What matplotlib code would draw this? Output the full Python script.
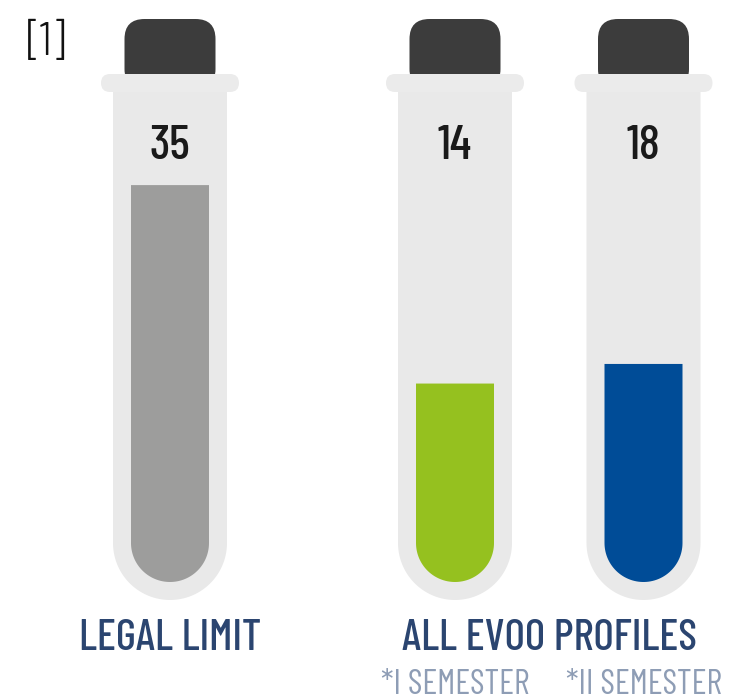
import numpy as np
import matplotlib
matplotlib.use("Agg")
import matplotlib.pyplot as plt
from matplotlib.patches import Polygon, FancyBboxPatch

# --- data ---
value_labels = ["35", "14", "18"]
fill_level = [0.81, 0.405, 0.445]      # share of the tube filled with liquid
liquid_colors = ["#9d9d9c", "#95c11f", "#004c97"]
group_labels = ["LEGAL LIMIT", "ALL EVOO PROFILES"]
sub_labels = ["*I SEMESTER", "*II SEMESTER"]
note = "[1]"

# --- layout, in pixels of the 736x694 canvas ---
W, H = 736, 694
centers = [170, 455, 643.5]
TUBE_R = 57          # half width of the glass
LIQ_R = 39           # half width of the liquid
TUBE_BOTTOM = 600
LIQ_BOTTOM = 582
RIM_Y0, RIM_Y1 = 74, 92
INNER_H = LIQ_BOTTOM - RIM_Y1

GLASS = "#e9e9e9"
CAP = "#3c3c3c"
NAVY = "#2b4570"
PALE = "#8e9db5"

plt.rcParams["font.family"] = ["Barlow Condensed", "DejaVu Sans"]

fig = plt.figure(figsize=(W / 100, H / 100), dpi=100)
ax = fig.add_axes([0, 0, 1, 1])
ax.set_xlim(0, W)
ax.set_ylim(H, 0)
ax.axis("off")


def u_shape(ax, cx, top, bottom, r, color, z):
    """One polygon: straight sides with a round bottom (y grows downward)."""
    t = np.linspace(np.pi, 0, 60)
    arc = np.column_stack([cx + r * np.cos(t), bottom - r + r * np.sin(t)])
    pts = np.vstack([[cx - r, top], arc, [cx + r, top]])
    ax.add_patch(Polygon(pts, closed=True, facecolor=color, edgecolor="none",
                         zorder=z))


for cx, lab, lvl, col in zip(centers, value_labels, fill_level, liquid_colors):
    # cap
    ax.add_patch(FancyBboxPatch((cx - 45.5, 19), 91, 70,
                                boxstyle="round,pad=0,rounding_size=20",
                                facecolor=CAP, edgecolor="none", zorder=1))
    # glass
    u_shape(ax, cx, RIM_Y1 - 2, TUBE_BOTTOM, TUBE_R, GLASS, 2)
    ax.add_patch(FancyBboxPatch((cx - 69, RIM_Y0), 138, RIM_Y1 - RIM_Y0,
                                boxstyle="round,pad=0,rounding_size=9",
                                facecolor="#ebebeb", edgecolor="none", zorder=3))
    # liquid
    top = LIQ_BOTTOM - lvl * INNER_H
    u_shape(ax, cx, top, LIQ_BOTTOM, LIQ_R, col, 4)
    # value
    ax.text(cx, 159, lab, ha="center", va="baseline", fontsize=35,
            fontweight=500, color="#1a1a1a", zorder=5)

ax.text(170.5, 650, group_labels[0], ha="center", va="baseline", fontsize=31.5,
        fontweight=500, color=NAVY)
ax.text(549, 650, group_labels[1], ha="center", va="baseline", fontsize=31.5,
        fontweight=500, color=NAVY)
for cx, s in zip([455, 644], sub_labels):
    ax.text(cx, 694, s, ha="center", va="baseline", fontsize=25, fontweight=400,
            color=PALE)

ax.text(46, 43, note, ha="center", va="center", fontsize=34, fontweight=300,
        color="#111111")

fig.savefig("out.png", dpi=100)
